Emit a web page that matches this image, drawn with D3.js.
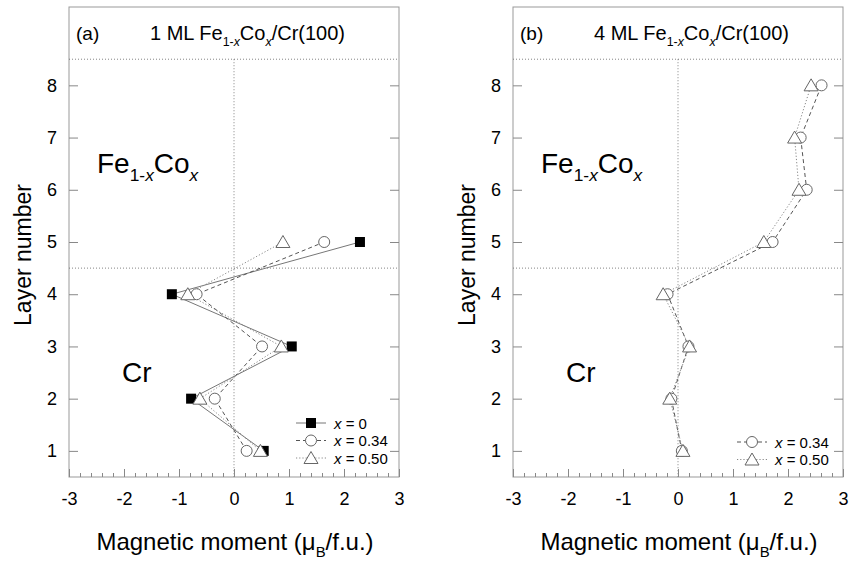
<!DOCTYPE html>
<html>
<head>
<meta charset="utf-8">
<script src="https://cdn.jsdelivr.net/npm/d3@7"></script>
<style>
  body { margin: 0; background: #fff; }
  svg text { font-family: 'Liberation Sans', Arial, sans-serif; fill: #000; }
</style>
</head>
<body>
<svg id="chart" width="850" height="561"></svg>
<script>
// layer numbers and moments (mu_B / f.u.)
const layersA = [1, 2, 3, 4, 5];
const momentA_x0 = [0.54, -0.78, 1.05, -1.13, 2.29];
const momentA_x034 = [0.23, -0.35, 0.51, -0.68, 1.64];
const momentA_x050 = [0.48, -0.62, 0.86, -0.84, 0.89];

const layersB = [1, 2, 3, 4, 5, 6, 7, 8];
const momentB_x034 = [0.07, -0.12, 0.19, -0.19, 1.72, 2.34, 2.23, 2.61];
const momentB_x050 = [0.09, -0.15, 0.21, -0.27, 1.56, 2.20, 2.12, 2.42];

const xTicks = [-3, -2, -1, 0, 1, 2, 3];
const yTicks = [1, 2, 3, 4, 5, 6, 7, 8];
const labelsX0 = ['0'], labelsX034 = ['0.34'], labelsX050 = ['0.50'];

const svg = d3.select('#chart');
const plotTop = 7, plotBottom = 477;

// series styles
const styles = {
  x0: { line: '#777', dash: null, marker: 'square', label: labelsX0[0] },
  x034: { line: '#555', dash: '4,3', marker: 'circle', label: labelsX034[0] },
  x050: { line: '#888', dash: '1.2,2', marker: 'triangle', label: labelsX050[0] }
};

function drawMarker(g, type, cx, cy) {
  if (type === 'square') {
    g.append('rect').attr('x', cx - 5).attr('y', cy - 5)
      .attr('width', 10).attr('height', 10).attr('fill', '#000');
  } else if (type === 'circle') {
    g.append('circle').attr('cx', cx).attr('cy', cy).attr('r', 5.5)
      .attr('fill', '#fff').attr('stroke', '#666').attr('stroke-width', 1);
  } else {
    g.append('path')
      .attr('d', `M${cx},${cy - 6.5}L${cx + 7},${cy + 5.5}L${cx - 7},${cy + 5.5}Z`)
      .attr('fill', '#fff').attr('stroke', '#666').attr('stroke-width', 1);
  }
}

// text with sub/italic segments: [text, sub?, italic?]
function richText(el, parts, size) {
  let shift = 0;
  parts.forEach(([t, sub, it]) => {
    const target = sub ? size * 0.28 : 0;
    el.append('tspan')
      .attr('dy', target - shift)
      .attr('font-size', sub ? size * 0.62 : size)
      .attr('font-style', it ? 'italic' : 'normal')
      .text(t);
    shift = target;
  });
}

const plainNum = d => String(d);  // hyphen minus like the original

function drawPanel(opts) {
  const { left, right, letter, ml, series, legendX, legendY } = opts;
  const x = d3.scaleLinear().domain([-3, 3]).range([left, right]);
  const y = d3.scaleLinear().domain([0.5, 9.5]).range([plotBottom, plotTop]);
  const g = svg.append('g');

  // frame
  g.append('rect').attr('x', left).attr('y', plotTop)
    .attr('width', right - left).attr('height', plotBottom - plotTop)
    .attr('fill', 'none').attr('stroke', '#999').attr('stroke-width', 1);

  // dotted guides
  [8.5, 4.5].forEach(v => {
    g.append('line').attr('x1', left).attr('x2', right)
      .attr('y1', y(v)).attr('y2', y(v))
      .attr('stroke', '#666').attr('stroke-width', 0.8).attr('stroke-dasharray', '1,2');
  });
  g.append('line').attr('x1', x(0)).attr('x2', x(0))
    .attr('y1', y(8.5)).attr('y2', plotBottom)
    .attr('stroke', '#666').attr('stroke-width', 0.8).attr('stroke-dasharray', '1,2');

  // axes
  const minor = d3.range(-3, 3.001, 0.2);
  g.append('g').attr('transform', `translate(0,${plotBottom})`)
    .call(d3.axisBottom(x).tickValues(minor).tickSize(-4).tickFormat(''))
    .call(a => a.select('.domain').remove())
    .call(a => a.selectAll('line').attr('stroke', '#888'));
  g.append('g').attr('transform', `translate(0,${plotBottom})`)
    .call(d3.axisBottom(x).tickValues(xTicks).tickSize(-8).tickPadding(15).tickFormat(plainNum))
    .call(a => a.select('.domain').remove())
    .call(a => a.selectAll('line').attr('stroke', '#888'))
    .call(a => a.selectAll('text').attr('font-size', 18).attr('fill', '#000')
      .attr('font-family', 'Liberation Sans, Arial, sans-serif'));
  g.append('g').attr('transform', `translate(${left},0)`)
    .call(d3.axisLeft(y).tickValues(yTicks).tickSize(-9).tickPadding(12).tickFormat(plainNum))
    .call(a => a.select('.domain').remove())
    .call(a => a.selectAll('line').attr('stroke', '#888'))
    .call(a => a.selectAll('text').attr('font-size', 18).attr('fill', '#000')
      .attr('font-family', 'Liberation Sans, Arial, sans-serif'));
  g.append('g').attr('transform', `translate(${right},0)`)
    .call(d3.axisRight(y).tickValues(yTicks).tickSize(-9).tickFormat(''))
    .call(a => a.select('.domain').remove())
    .call(a => a.selectAll('line').attr('stroke', '#888'));

  // axis titles
  const xl = g.append('text').attr('x', (left + right) / 2 + 1).attr('y', 550)
    .attr('text-anchor', 'middle');
  richText(xl, [['Magnetic moment (\u03bc'], ['B', true], ['/f.u.)']], 24);
  g.append('text')
    .attr('transform', `translate(${left - 38},${(plotTop + plotBottom) / 2 + 13}) rotate(-90)`)
    .attr('text-anchor', 'middle').attr('font-size', 23)
    .text('Layer number');

  // panel title
  g.append('text').attr('x', left + 7).attr('y', 40).attr('font-size', 19).text(letter);
  const tt = g.append('text').attr('x', left + 81).attr('y', 40);
  richText(tt, [[ml + ' ML Fe'], ['1-', true], ['x', true, true], ['Co'], ['x', true, true], ['/Cr(100)']], 20);

  // region labels
  const fe = g.append('text').attr('x', left + 28).attr('y', 173);
  richText(fe, [['Fe'], ['1-', true], ['x', true, true], ['Co'], ['x', true, true]], 28);
  g.append('text').attr('x', left + 53).attr('y', 382).attr('font-size', 28).text('Cr');

  // lines then markers
  const line = d3.line().x(d => x(d[0])).y(d => y(d[1]));
  series.forEach(s => {
    const st = styles[s.key];
    g.append('path').datum(d3.zip(s.values, s.layers))
      .attr('d', line).attr('fill', 'none')
      .attr('stroke', st.line).attr('stroke-width', 1)
      .attr('stroke-dasharray', st.dash);
  });
  series.forEach(s => {
    const st = styles[s.key];
    s.values.forEach((v, i) => drawMarker(g, st.marker, x(v), y(s.layers[i])));
  });

  // legend
  series.forEach((s, i) => {
    const st = styles[s.key];
    const ly = legendY + i * 17.5;
    g.append('line').attr('x1', legendX).attr('x2', legendX + 30)
      .attr('y1', ly).attr('y2', ly)
      .attr('stroke', st.line).attr('stroke-width', 1).attr('stroke-dasharray', st.dash);
    drawMarker(g, st.marker, legendX + 15, ly);
    const lt = g.append('text').attr('x', legendX + 38).attr('y', ly + 5.5).attr('font-size', 15);
    lt.append('tspan').attr('font-style', 'italic').text('x');
    lt.append('tspan').text(' = ' + st.label);
  });
}

drawPanel({
  left: 69, right: 399, letter: '(a)', ml: 1,
  series: [
    { key: 'x0', layers: layersA, values: momentA_x0 },
    { key: 'x034', layers: layersA, values: momentA_x034 },
    { key: 'x050', layers: layersA, values: momentA_x050 }
  ],
  legendX: 296, legendY: 423
});

drawPanel({
  left: 513, right: 843, letter: '(b)', ml: 4,
  series: [
    { key: 'x034', layers: layersB, values: momentB_x034 },
    { key: 'x050', layers: layersB, values: momentB_x050 }
  ],
  legendX: 737, legendY: 442
});
</script>
</body>
</html>
